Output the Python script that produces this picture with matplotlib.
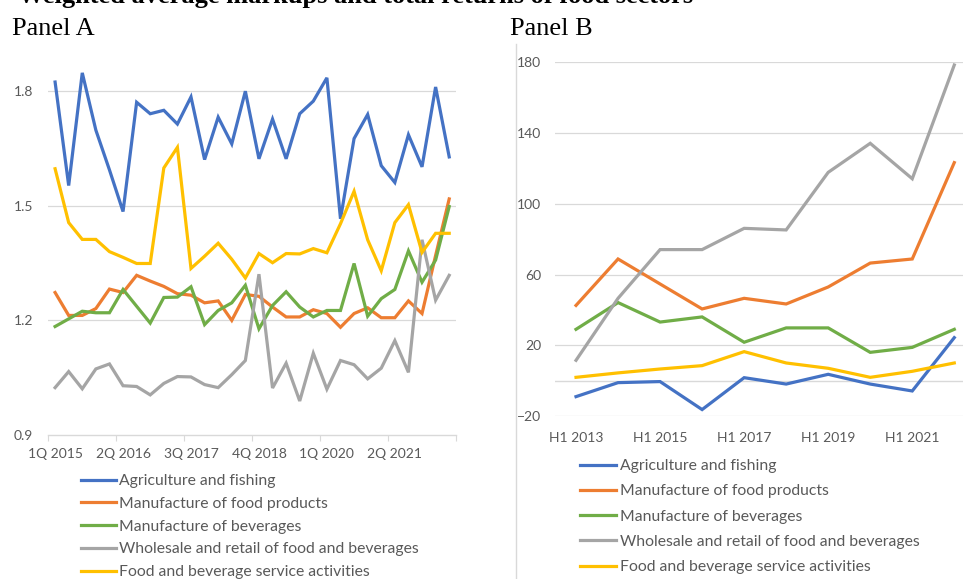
import matplotlib
matplotlib.use("Agg")
import matplotlib.pyplot as plt
from matplotlib.lines import Line2D

# ---------------- data ----------------
series_names = [
    "Agriculture and fishing",
    "Manufacture of food products",
    "Manufacture of beverages",
    "Wholesale and retail of food and beverages",
    "Food and beverage service activities",
]
colors = ["#4472C4", "#ED7D31", "#70AD47", "#A5A5A5", "#FFC000"]

quarters = [f"{q}Q {y}" for y in range(2015, 2023) for q in range(1, 5)][:30]

agri_q = [1.824, 1.553, 1.848, 1.698, 1.594, 1.485, 1.771, 1.741, 1.750, 1.714,
          1.785, 1.621, 1.732, 1.662, 1.800, 1.623, 1.727, 1.623, 1.741, 1.774,
          1.835, 1.466, 1.676, 1.739, 1.605, 1.561, 1.686, 1.602, 1.811, 1.628]
food_q = [1.273, 1.213, 1.213, 1.231, 1.282, 1.273, 1.318, 1.303, 1.289, 1.270,
          1.266, 1.246, 1.251, 1.200, 1.268, 1.263, 1.235, 1.209, 1.209, 1.228,
          1.218, 1.182, 1.218, 1.233, 1.207, 1.207, 1.251, 1.218, 1.370, 1.518]
bev_q = [1.184, 1.204, 1.224, 1.220, 1.220, 1.281, 1.237, 1.193, 1.260, 1.261,
         1.288, 1.189, 1.226, 1.246, 1.292, 1.178, 1.239, 1.275, 1.235, 1.209,
         1.226, 1.226, 1.349, 1.211, 1.257, 1.281, 1.382, 1.300, 1.358, 1.498]
whole_q = [1.024, 1.066, 1.021, 1.073, 1.086, 1.029, 1.027, 1.005, 1.035, 1.053,
           1.052, 1.032, 1.024, 1.058, 1.095, 1.321, 1.023, 1.088, 0.989, 1.114,
           1.020, 1.095, 1.084, 1.047, 1.075, 1.147, 1.064, 1.411, 1.253, 1.318]
serv_q = [1.597, 1.456, 1.412, 1.412, 1.380, 1.365, 1.349, 1.349, 1.599, 1.653,
          1.336, 1.368, 1.402, 1.360, 1.311, 1.375, 1.351, 1.375, 1.374, 1.388,
          1.377, 1.453, 1.538, 1.411, 1.330, 1.456, 1.503, 1.378, 1.428, 1.428]

halves = [f"H1 {y}" for y in range(2013, 2023)]
agri_h = [-8.9, -1.0, -0.4, -16.2, 1.8, -1.8, 3.7, -1.8, -5.7, 24.4]
food_h = [42.6, 68.8, 54.7, 40.6, 46.6, 43.4, 53.0, 66.5, 68.8, 123.2]
bev_h = [29.1, 44.2, 33.2, 36.1, 21.8, 29.9, 29.9, 16.1, 18.9, 29.1]
whole_h = [11.6, 46.6, 74.1, 74.1, 86.1, 85.2, 117.7, 134.1, 114.1, 178.3]
serv_h = [2.0, 4.5, 6.7, 8.6, 16.5, 10.1, 7.1, 2.0, 5.4, 10.1]

yticks_a = [0.9, 1.2, 1.5, 1.8]
yticks_b = [-20, 20, 60, 100, 140, 180]

# ---------------- style ----------------
TICK_FONT = "Lato"
TICK_COLOR = "#595959"
GRID = "#D9D9D9"
LW = 2.3

W, H = 963, 579
fig = plt.figure(figsize=(W / 100, H / 100), dpi=100)


def fx(px):
    return px / W


def fy(py):
    return 1 - py / H


# ---------------- Panel A ----------------
axA = fig.add_axes([fx(48.3), fy(435), fx(456) - fx(48.3), (435 - 53) / H])
xa = list(range(len(quarters)))
for vals, c, n in zip([agri_q, food_q, bev_q, whole_q, serv_q], colors, series_names):
    axA.plot(xa, vals, color=c, lw=LW, label=n, solid_joinstyle="miter")
axA.set_xlim(-0.5, len(quarters) - 0.5)
axA.set_ylim(0.9, 1.9)
axA.set_yticks(yticks_a)
axA.set_yticklabels([f"{v:.1f}" for v in yticks_a])
axA.set_xticks(xa[::5])
axA.set_xticklabels(quarters[::5])
axA.set_xticks([i - 0.5 for i in range(0, len(quarters) + 1, 5)], minor=True)
axA.tick_params(axis="x", which="major", length=0, pad=9.5)
axA.tick_params(axis="x", which="minor", length=4, width=0.8, color=GRID, direction="out")
axA.tick_params(axis="y", length=0, pad=11)
for s in ["top", "right", "left"]:
    axA.spines[s].set_visible(False)
axA.spines["bottom"].set_color(GRID)
axA.spines["bottom"].set_linewidth(1.0)
for v in yticks_a[1:]:
    axA.axhline(v, color=GRID, lw=0.9, zorder=0)

# ---------------- Panel B ----------------
axB = fig.add_axes([fx(555), fy(416.3), fx(975.3) - fx(555), (416.3 - 62) / H])
xb = list(range(len(halves)))
for vals, c, n in zip([agri_h, food_h, bev_h, whole_h, serv_h], colors, series_names):
    axB.plot(xb, vals, color=c, lw=LW, label=n, solid_joinstyle="miter")
axB.set_xlim(-0.5, len(halves) - 0.5)
axB.set_ylim(-20, 180)
axB.set_yticks(yticks_b)
axB.set_xticks(xb[::2])
axB.set_xticklabels(halves[::2])
axB.tick_params(axis="x", length=0, pad=11)
axB.tick_params(axis="y", length=0, pad=10)
for s in ["top", "right", "left", "bottom"]:
    axB.spines[s].set_visible(False)
for v in yticks_b:
    axB.axhline(v, color=GRID, lw=0.9, zorder=0)
axB.axhline(0, color=GRID, lw=1.0, zorder=0)

for ax in (axA, axB):
    for lab in ax.get_xticklabels() + ax.get_yticklabels():
        lab.set_fontfamily(TICK_FONT)
        lab.set_fontsize(10)
        lab.set_color(TICK_COLOR)

# ---------------- legends ----------------
handlesA, labelsA = axA.get_legend_handles_labels()
legA = fig.legend(handlesA, labelsA, loc="upper left",
                  bbox_to_anchor=(fx(81), fy(474)), frameon=False,
                  prop={"family": TICK_FONT, "size": 11.3},
                  handlelength=2.2, handletextpad=0.22, labelspacing=0.56,
                  borderaxespad=0, borderpad=0)
for t in legA.get_texts():
    t.set_color(TICK_COLOR)

handlesB, labelsB = axB.get_legend_handles_labels()
legB = fig.legend(handlesB, labelsB, loc="upper left",
                  bbox_to_anchor=(fx(580), fy(459)), frameon=False,
                  prop={"family": TICK_FONT, "size": 11.3},
                  handlelength=2.3, handletextpad=0.22, labelspacing=0.72,
                  borderaxespad=0, borderpad=0)
for t in legB.get_texts():
    t.set_color(TICK_COLOR)

# ---------------- titles / decorations ----------------
fig.text(fx(18), fy(3), "Weighted average markups and total returns of food sectors",
         fontfamily="Liberation Serif", fontweight="bold", fontsize=19,
         va="baseline", ha="left", color="black")
fig.text(fx(12), fy(35), "Panel A", fontfamily="Liberation Serif", fontsize=19,
         va="baseline", ha="left", color="black")
fig.text(fx(510), fy(35), "Panel B", fontfamily="Liberation Serif", fontsize=19,
         va="baseline", ha="left", color="black")
fig.add_artist(Line2D([fx(516), fx(516)], [fy(44), 0], transform=fig.transFigure,
                      color=GRID, lw=1.0))

fig.savefig("out.png", dpi=100)
